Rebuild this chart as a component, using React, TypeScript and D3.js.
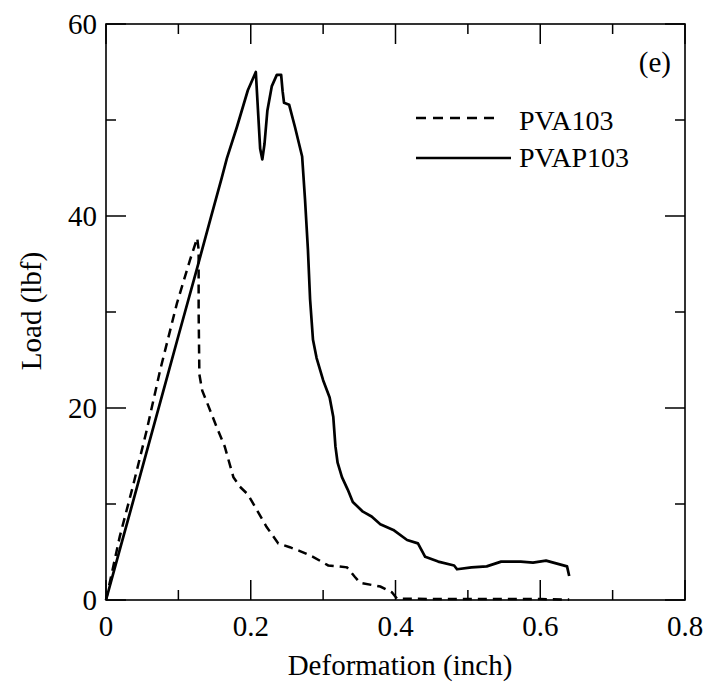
import React from "react";
import * as d3 from "d3";

const pva103X = [0, 0.019, 0.037, 0.056, 0.075, 0.098, 0.116, 0.126, 0.128, 0.128, 0.129, 0.133, 0.141, 0.153, 0.164, 0.176, 0.185, 0.196, 0.206, 0.222, 0.238, 0.254, 0.268, 0.286, 0.307, 0.333, 0.344, 0.351, 0.379, 0.395, 0.402, 0.45, 0.5, 0.55, 0.6, 0.64];
const pva103Y = [0, 6.6, 11.8, 17.6, 24.0, 30.9, 35.4, 37.7, 36.5, 30, 23.5, 21.8, 20.3, 18.0, 16.0, 12.8, 11.8, 11.0, 9.7, 7.6, 5.9, 5.5, 5.1, 4.5, 3.6, 3.4, 2.4, 1.8, 1.4, 0.8, 0.15, 0.1, 0.1, 0.1, 0.1, 0.05];

const pvap103X = [0, 0.02, 0.043, 0.06, 0.0815, 0.1, 0.126, 0.144, 0.16, 0.167, 0.181, 0.196, 0.207, 0.21, 0.213, 0.216, 0.219, 0.223, 0.229, 0.236, 0.242, 0.244, 0.246, 0.253, 0.261, 0.271, 0.275, 0.279, 0.282, 0.286, 0.291, 0.3, 0.309, 0.314, 0.317, 0.32, 0.326, 0.334, 0.341, 0.355, 0.367, 0.379, 0.397, 0.416, 0.431, 0.441, 0.459, 0.481, 0.485, 0.505, 0.526, 0.546, 0.573, 0.59, 0.608, 0.637, 0.64];
const pvap103Y = [0, 5.5, 11.8, 16.5, 22.4, 27.5, 34.6, 39.6, 44.0, 46.0, 49.3, 53.1, 55.0, 51, 47, 45.9, 47.5, 51, 53.5, 54.7, 54.7, 53, 51.8, 51.6, 49.3, 46.2, 41.7, 36.5, 31.3, 27.1, 25.2, 22.9, 21.1, 19.1, 16, 14.3, 12.8, 11.5, 10.2, 9.2, 8.7, 7.9, 7.3, 6.25, 5.9, 4.5, 4.0, 3.6, 3.2, 3.4, 3.5, 4.0, 4.0, 3.9, 4.1, 3.5, 2.5];

const xTicks = [0, 0.2, 0.4, 0.6, 0.8];
const xMinor = [0.1, 0.3, 0.5, 0.7];
const yTicks = [0, 20, 40, 60];
const yMinor = [10, 30, 50];
const seriesNames = ["PVA103", "PVAP103"];

const FONT = "Liberation Serif, Times New Roman, serif";

export default function App() {
  const left = 106, right = 685, top = 24, bottom = 600;
  const x = d3.scaleLinear().domain([0, 0.8]).range([left, right]);
  const y = d3.scaleLinear().domain([0, 60]).range([bottom, top]);
  const line = d3.line<[number, number]>().x(d => x(d[0])).y(d => y(d[1]));
  const d1 = line(pva103X.map((v, i) => [v, pva103Y[i]] as [number, number])) || "";
  const d2 = line(pvap103X.map((v, i) => [v, pvap103Y[i]] as [number, number])) || "";
  const major = 20, minor = 10;
  const fs = 29;
  const ts = { fontFamily: FONT };
  return (
    <svg width={708} height={687} style={{ position: "absolute", left: 0, top: 0, background: "#fff", fontFamily: FONT }}>
      <rect x={0} y={0} width={708} height={687} fill="#fff" />
      <rect x={left} y={top} width={right - left} height={bottom - top} fill="none" stroke="#000" strokeWidth={1.6} />
      {xTicks.map(t => (
        <g key={"xt" + t}>
          <line x1={x(t)} x2={x(t)} y1={bottom} y2={bottom - major} stroke="#000" strokeWidth={1.5} />
          <line x1={x(t)} x2={x(t)} y1={top} y2={top + major} stroke="#000" strokeWidth={1.5} />
          <text x={x(t)} y={636} textAnchor="middle" fontSize={fs} style={ts}>{t === 0 ? "0" : t.toFixed(1)}</text>
        </g>
      ))}
      {xMinor.map(t => (
        <g key={"xm" + t}>
          <line x1={x(t)} x2={x(t)} y1={bottom} y2={bottom - minor} stroke="#000" strokeWidth={1.5} />
          <line x1={x(t)} x2={x(t)} y1={top} y2={top + minor} stroke="#000" strokeWidth={1.5} />
        </g>
      ))}
      {yTicks.map(t => (
        <g key={"yt" + t}>
          <line x1={left} x2={left + major} y1={y(t)} y2={y(t)} stroke="#000" strokeWidth={1.5} />
          <line x1={right} x2={right - major} y1={y(t)} y2={y(t)} stroke="#000" strokeWidth={1.5} />
          <text x={97} y={y(t) + 10} textAnchor="end" fontSize={fs} style={ts}>{t}</text>
        </g>
      ))}
      {yMinor.map(t => (
        <g key={"ym" + t}>
          <line x1={left} x2={left + minor} y1={y(t)} y2={y(t)} stroke="#000" strokeWidth={1.5} />
          <line x1={right} x2={right - minor} y1={y(t)} y2={y(t)} stroke="#000" strokeWidth={1.5} />
        </g>
      ))}
      <path d={d1} fill="none" stroke="#000" strokeWidth={2.5} strokeDasharray="9,6" />
      <path d={d2} fill="none" stroke="#000" strokeWidth={2.7} strokeLinejoin="round" />
      <text x={400} y={675} textAnchor="middle" fontSize={fs} style={ts}>Deformation (inch)</text>
      <text transform={`translate(41,311) rotate(-90)`} textAnchor="middle" fontSize={fs} style={ts}>Load (lbf)</text>
      <text x={671} y={72} textAnchor="end" fontSize={fs} style={ts}>(e)</text>
      <line x1={416} x2={501} y1={118} y2={118} stroke="#000" strokeWidth={2.5} strokeDasharray="10,7" />
      <text x={519} y={130} fontSize={28} style={ts}>{seriesNames[0]}</text>
      <line x1={416} x2={511} y1={158} y2={158} stroke="#000" strokeWidth={2.7} />
      <text x={519} y={167} fontSize={28} style={ts}>{seriesNames[1]}</text>
    </svg>
  );
}
